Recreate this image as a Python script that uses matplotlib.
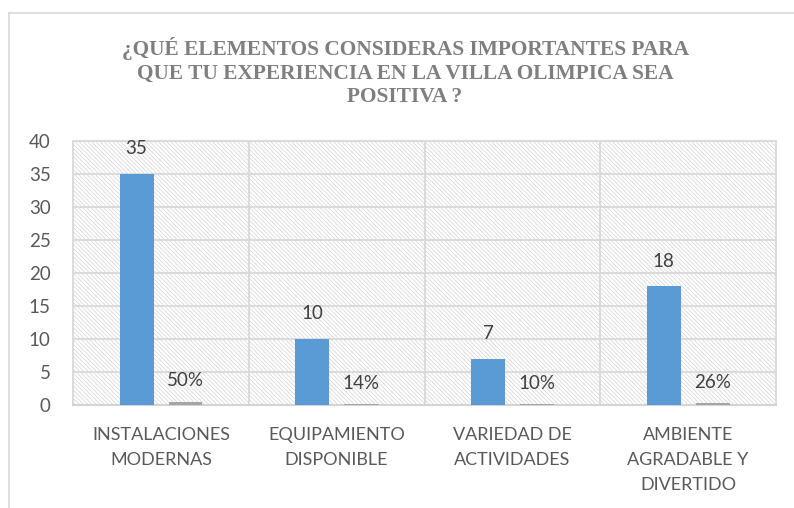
import matplotlib
matplotlib.use("Agg")
import matplotlib.pyplot as plt
from matplotlib.patches import Rectangle
from matplotlib.lines import Line2D
import numpy as np

categories = ["INSTALACIONES\nMODERNAS", "EQUIPAMIENTO\nDISPONIBLE",
              "VARIEDAD DE\nACTIVIDADES", "AMBIENTE\nAGRADABLE Y\nDIVERTIDO"]
counts = [35, 10, 7, 18]
shares = [0.50, 0.14, 0.10, 0.26]
share_labels = ["50%", "14%", "10%", "26%"]
yticks = [0, 5, 10, 15, 20, 25, 30, 35, 40]
title = "¿QUÉ ELEMENTOS CONSIDERAS IMPORTANTES PARA\nQUE TU EXPERIENCIA EN LA VILLA OLIMPICA SEA\nPOSITIVA ?"

W, H = 794, 508
plt.rcParams['font.family'] = ['Lato', 'DejaVu Sans']
plt.rcParams['hatch.linewidth'] = 0.6

fig = plt.figure(figsize=(W / 100, H / 100), dpi=100)
ax = fig.add_axes([73 / W, (H - 405) / H, (776 - 73) / W, (405 - 141) / H])

# hatched plot background
bg = Rectangle((0, 0), 1, 1, transform=ax.transAxes, facecolor='white',
               edgecolor='#dadada', lw=0, hatch='\\' * 8, zorder=0)
ax.add_patch(bg)
ax.patch.set_alpha(0)

x = np.arange(len(categories))
w = 0.193
b1 = ax.bar(x - 0.138, counts, w, color='#5b9bd5', zorder=3)
b2 = ax.bar(x + 0.14, shares, w, color='#a5a5a5', zorder=3)

for rect, v in zip(b1, counts):
    ax.annotate(str(v), (rect.get_x() + rect.get_width() / 2, rect.get_height()),
                xytext=(0, 12), textcoords='offset points', ha='center', va='bottom',
                fontsize=13.5, color='#404040')
for rect, s in zip(b2, share_labels):
    ax.annotate(s, (rect.get_x() + rect.get_width() / 2, rect.get_height()),
                xytext=(0, 9), textcoords='offset points', ha='center', va='bottom',
                fontsize=13.5, color='#404040')

ax.set_xlim(-0.5, 3.5)
ax.set_ylim(0, 40)
ax.set_yticks(yticks)
ax.set_xticks(x)
ax.set_xticklabels(categories, linespacing=1.7)
ax.tick_params(axis='y', length=0, pad=16, labelsize=13.5, labelcolor='#595959')
ax.tick_params(axis='x', length=0, pad=16, labelsize=13, labelcolor='#595959')

for yv in yticks[1:]:
    ax.axhline(yv, color='#d9d9d9', lw=1.3, zorder=1)
for xv in [0.5, 1.5, 2.5]:
    ax.axvline(xv, color='#d9d9d9', lw=1.3, zorder=1)
for side in ['left', 'right', 'top']:
    ax.spines[side].set_color('#d9d9d9')
    ax.spines[side].set_linewidth(1.3)
ax.spines['bottom'].set_color('#d0d0d0')
ax.spines['bottom'].set_linewidth(1.3)

fig.text(405 / W, 1 - 72 / H, title, ha='center', va='center',
         multialignment='center', fontsize=15.4, fontweight='bold',
         color='#7f7f7f', family='Liberation Serif', linespacing=1.25)

# outer chart border
fig.add_artist(Line2D([9 / W, 9 / W], [0, 1 - 13 / H], transform=fig.transFigure,
                      color='#d9d9d9', lw=1.2))
fig.add_artist(Line2D([9 / W, 1], [1 - 13 / H, 1 - 13 / H], transform=fig.transFigure,
                      color='#d9d9d9', lw=1.2))

fig.savefig("out.png", dpi=100)
